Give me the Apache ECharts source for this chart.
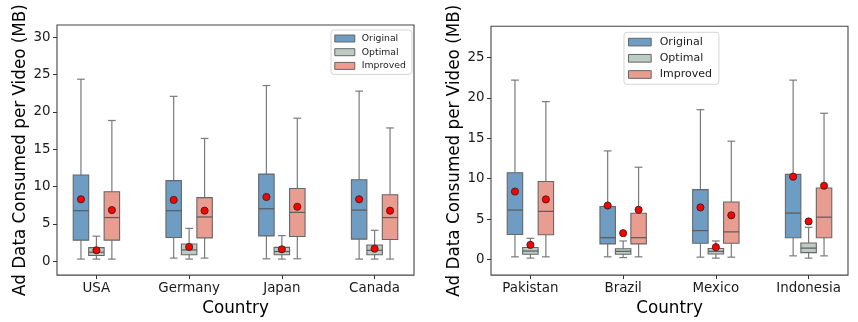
<!DOCTYPE html>
<html>
<head>
<meta charset="utf-8">
<script src="https://cdn.jsdelivr.net/npm/echarts@6/dist/echarts.min.js"></script>
<style>html,body{margin:0;padding:0;background:#fff}#c{width:858px;height:322px}</style>
</head>
<body>
<div id="c"></div>
<script>
// ---------- data ----------
const categoriesLeft = ['USA', 'Germany', 'Japan', 'Canada'];
const categoriesRight = ['Pakistan', 'Brazil', 'Mexico', 'Indonesia'];
const seriesNames = ['Original', 'Optimal', 'Improved'];
const yTicksLeft = [0, 5, 10, 15, 20, 25, 30];
const yTicksRight = [0, 5, 10, 15, 20, 25];
const xTickIndex = [0, 1, 2, 3];

// each box: [min, Q1, median, Q3, max]
const leftOriginal = [[0.27, 2.81, 6.76, 11.54, 24.4], [0.4, 3.16, 6.76, 10.8, 22.1], [0.31, 3.38, 7.02, 11.67, 23.55], [0.27, 2.94, 6.84, 10.92, 22.8]];
const leftOriginalMean = [8.29, 8.2, 8.6, 8.29];
const leftOptimal = [[0.27, 0.75, 1.19, 1.8, 3.34], [0.27, 0.84, 1.5, 2.29, 4.39], [0.27, 0.84, 1.28, 1.84, 3.42], [0.27, 0.84, 1.45, 2.16, 4.13]];
const leftOptimalMean = [1.45, 1.89, 1.58, 1.67];
const leftImproved = [[0.27, 2.81, 5.84, 9.3, 18.86], [0.4, 3.12, 5.92, 8.51, 16.45], [0.31, 3.29, 6.54, 9.74, 19.17], [0.27, 2.9, 5.84, 8.9, 17.86]];
const leftImprovedMean = [6.84, 6.76, 7.29, 6.76];

const rightOriginal = [[0.33, 3.1, 6.12, 10.74, 22.2], [0.33, 1.93, 2.7, 6.56, 13.44], [0.29, 2.01, 3.58, 8.65, 18.54], [0.45, 2.7, 5.75, 10.54, 22.2]];
const rightOriginalMean = [8.41, 6.68, 6.44, 10.25];
const rightOptimal = [[0.17, 0.65, 1.05, 1.49, 2.62], [0.24, 0.65, 1.01, 1.33, 2.29], [0.17, 0.69, 1.01, 1.37, 2.29], [0.17, 0.85, 1.41, 2.05, 3.98]];
const rightOptimalMean = [1.81, 3.26, 1.53, 4.71];
const rightImproved = [[0.33, 3.06, 5.96, 9.65, 19.54], [0.33, 1.93, 2.7, 5.72, 11.42], [0.29, 2.01, 3.42, 7.12, 14.64], [0.45, 2.7, 5.24, 8.85, 18.1]];
const rightImprovedMean = [7.44, 6.15, 5.47, 9.13];

// ---------- style ----------
const FONT = 'DejaVu Sans';
const fills = ['#6f9cc2', '#bccbc3', '#e99d91'];
const edgeColor = '#666666';
const whiskerColor = '#7a7a7a';
const offsets = [-1 / 6, 0, 1 / 6];
const boxFrac = 1 / 6;

function makeData(boxes, means) {
  return boxes.map((b, i) => [i].concat(b).concat([means[i]]));
}

function makeRender(k) {
  return function (params, api) {
    const i = api.value(0);
    const unit = api.size([1, 0])[0];
    const cx = api.coord([i + offsets[k], 0])[0];
    const w = unit * boxFrac;
    const y = (j) => api.coord([i, api.value(j)])[1];
    const yMin = y(1), yQ1 = y(2), yMed = y(3), yQ3 = y(4), yMax = y(5), yMean = y(6);
    const cap = w / 4;
    const wl = { stroke: whiskerColor, lineWidth: 1.2 };
    return {
      type: 'group',
      children: [
        { type: 'line', shape: { x1: cx, y1: yQ1, x2: cx, y2: yMin }, style: wl },
        { type: 'line', shape: { x1: cx, y1: yQ3, x2: cx, y2: yMax }, style: wl },
        { type: 'line', shape: { x1: cx - cap, y1: yMin, x2: cx + cap, y2: yMin }, style: wl },
        { type: 'line', shape: { x1: cx - cap, y1: yMax, x2: cx + cap, y2: yMax }, style: wl },
        { type: 'rect', shape: { x: cx - w / 2, y: yQ3, width: w, height: yQ1 - yQ3 },
          style: { fill: fills[k], stroke: edgeColor, lineWidth: 1.1 } },
        { type: 'line', shape: { x1: cx - w / 2, y1: yMed, x2: cx + w / 2, y2: yMed },
          style: { stroke: '#5a5a5a', lineWidth: 1.2 } },
        { type: 'circle', shape: { cx: cx, cy: yMean, r: 3.6 },
          style: { fill: '#ff0000', stroke: '#222', lineWidth: 0.8 } }
      ]
    };
  };
}

function makeSeries(name, k, gi, boxes, means) {
  return {
    name: name, type: 'custom', xAxisIndex: gi, yAxisIndex: gi,
    renderItem: makeRender(k),
    itemStyle: { color: fills[k] },
    encode: { x: 0, y: [1, 2, 3, 4, 5, 6] },
    data: makeData(boxes, means),
    clip: false, silent: true
  };
}

function xAxisFor(gi, cats) {
  return {
    type: 'value', gridIndex: gi, min: -0.425, max: 3.425, position: 'bottom',
    axisLine: { show: false, onZero: false }, splitLine: { show: false },
    axisTick: { show: true, customValues: xTickIndex, length: 4, lineStyle: { color: '#333', width: 1 } },
    axisLabel: { customValues: xTickIndex, formatter: (v) => cats[Math.round(v)], fontFamily: FONT, fontSize: 13.4, color: '#1a1a1a', margin: 7 },
    name: 'Country', nameLocation: 'middle', nameGap: 21,
    nameTextStyle: { fontFamily: FONT, fontSize: 16.8, color: '#000' }
  };
}

function yAxisFor(gi, min, max, ticks) {
  return {
    type: 'value', gridIndex: gi, min: min, max: max, position: 'left',
    axisLine: { show: false, onZero: false }, splitLine: { show: false },
    axisTick: { show: true, customValues: ticks, length: 4, lineStyle: { color: '#333', width: 1 } },
    axisLabel: { customValues: ticks, fontFamily: FONT, fontSize: 13.4, color: '#1a1a1a', margin: 6.5 },
    name: 'Ad Data Consumed per Video (MB)', nameLocation: 'middle', nameGap: 28,
    nameTextStyle: { fontFamily: FONT, fontSize: 16.8, color: '#000' }
  };
}

function legendFor(left, top, fontSize, iw, ih, gap, lh, pad, textPad) {
  return {
    orient: 'vertical', left: left, top: top,
    data: seriesNames.map((n, k) => ({ name: n, icon: 'rect', itemStyle: { color: fills[k], borderColor: '#666', borderWidth: 1 } })),
    itemWidth: iw, itemHeight: ih, itemGap: gap, padding: pad,
    backgroundColor: 'rgba(255,255,255,0.85)', borderColor: '#d5d5d5', borderWidth: 1, borderRadius: 3,
    textStyle: { fontFamily: FONT, fontSize: fontSize, color: '#1a1a1a', lineHeight: lh, padding: textPad },
    selectedMode: false
  };
}

const chart = echarts.init(document.getElementById('c'), null, { renderer: 'canvas' });
chart.setOption({
  animation: false,
  backgroundColor: '#fff',
  grid: [
    { left: 57, top: 25, width: 357, height: 255, show: true, borderColor: '#444', borderWidth: 1.1, backgroundColor: 'transparent' },
    { left: 491, top: 26.3, width: 357, height: 255.4, show: true, borderColor: '#444', borderWidth: 1.1, backgroundColor: 'transparent' }
  ],
  xAxis: [xAxisFor(0, categoriesLeft), xAxisFor(1, categoriesRight)],
  yAxis: [yAxisFor(0, -1.88, 31.67, yTicksLeft), yAxisFor(1, -1.93, 28.86, yTicksRight)],
  legend: [
    legendFor(331, 30, 9.3, 20, 7, 3.7, 10, [3.5, 6, 3.5, 3.3], [0, 0, 0, 2]),
    legendFor(624, 32.3, 11, 22.7, 7.7, 4.2, 12, [3.8, 7, 3.8, 4], [0, 0, 0, 3.5])
  ],
  series: [
    makeSeries('Original', 0, 0, leftOriginal, leftOriginalMean),
    makeSeries('Optimal', 1, 0, leftOptimal, leftOptimalMean),
    makeSeries('Improved', 2, 0, leftImproved, leftImprovedMean),
    makeSeries('Original', 0, 1, rightOriginal, rightOriginalMean),
    makeSeries('Optimal', 1, 1, rightOptimal, rightOptimalMean),
    makeSeries('Improved', 2, 1, rightImproved, rightImprovedMean)
  ]
});
</script>
</body>
</html>
